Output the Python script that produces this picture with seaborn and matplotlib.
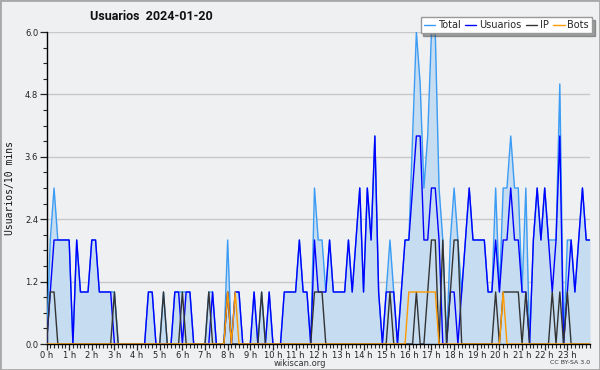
import numpy as np
import pandas as pd
import matplotlib
matplotlib.use("Agg")
import matplotlib.pyplot as plt
import seaborn as sns
from matplotlib.ticker import MultipleLocator
from matplotlib.patches import Rectangle

# ---- data: one value every 10 minutes, 00:00 .. 24:00 ----
total = [
    0, 2, 3, 2, 2, 2,
    2, 0, 2, 1, 1, 1,
    2, 2, 1, 1, 1, 1,
    1, 0, 0, 0, 0, 0,
    0, 0, 0, 1, 1, 0,
    0, 1, 0, 0, 1, 1,
    1, 1, 1, 0, 0, 0,
    0, 1, 1, 0, 0, 0,
    2, 0, 1, 1, 0, 0,
    0, 1, 0, 1, 0, 1,
    0, 0, 0, 1, 1, 1,
    1, 2, 1, 1, 0, 3,
    2, 2, 1, 2, 1, 1,
    1, 1, 2, 1, 2, 3,
    1, 3, 2, 4, 1, 0,
    1, 2, 1, 0, 1, 2,
    2, 4, 6, 5, 3, 4,
    6, 6, 3, 2, 0, 2,
    3, 2, 1, 2, 3, 2,
    2, 2, 2, 1, 1, 3,
    1, 3, 3, 4, 3, 3,
    1, 3, 0, 2, 3, 2,
    3, 2, 2, 2, 5, 0,
    2, 2, 1, 2, 3, 2,
    2]

usuarios = [
    0, 1, 2, 2, 2, 2,
    2, 0, 2, 1, 1, 1,
    2, 2, 1, 1, 1, 1,
    0, 0, 0, 0, 0, 0,
    0, 0, 0, 1, 1, 0,
    0, 0, 0, 0, 1, 1,
    0, 1, 1, 0, 0, 0,
    0, 0, 1, 0, 0, 0,
    1, 0, 1, 1, 0, 0,
    0, 1, 0, 0, 0, 1,
    0, 0, 0, 1, 1, 1,
    1, 2, 1, 1, 0, 2,
    1, 1, 1, 2, 1, 1,
    1, 1, 2, 1, 2, 3,
    1, 3, 2, 4, 1, 0,
    1, 1, 1, 0, 1, 2,
    2, 3, 4, 4, 2, 2,
    3, 3, 2, 0, 0, 1,
    1, 0, 1, 2, 3, 2,
    2, 2, 2, 1, 1, 2,
    1, 2, 2, 3, 2, 2,
    1, 1, 0, 2, 3, 2,
    3, 2, 1, 2, 4, 0,
    1, 2, 1, 2, 3, 2,
    2]

ip = [
    0, 1, 1, 0, 0, 0,
    0, 0, 0, 0, 0, 0,
    0, 0, 0, 0, 0, 0,
    1, 0, 0, 0, 0, 0,
    0, 0, 0, 0, 0, 0,
    0, 1, 0, 0, 0, 0,
    1, 0, 0, 0, 0, 0,
    0, 1, 0, 0, 0, 0,
    1, 0, 0, 0, 0, 0,
    0, 0, 0, 1, 0, 0,
    0, 0, 0, 0, 0, 0,
    0, 0, 0, 0, 0, 1,
    1, 1, 0, 0, 0, 0,
    0, 0, 0, 0, 0, 0,
    0, 0, 0, 0, 0, 0,
    0, 1, 0, 0, 0, 0,
    0, 0, 1, 0, 0, 1,
    2, 2, 0, 2, 0, 1,
    2, 2, 0, 0, 0, 0,
    0, 0, 0, 0, 0, 1,
    0, 1, 1, 1, 1, 1,
    0, 1, 0, 0, 0, 0,
    0, 0, 1, 0, 1, 0,
    1, 0, 0, 0, 0, 0,
    0]

bots = [
    0, 0, 0, 0, 0, 0,
    0, 0, 0, 0, 0, 0,
    0, 0, 0, 0, 0, 0,
    0, 0, 0, 0, 0, 0,
    0, 0, 0, 0, 0, 0,
    0, 0, 0, 0, 0, 0,
    0, 0, 0, 0, 0, 0,
    0, 0, 0, 0, 0, 0,
    1, 0, 1, 0, 0, 0,
    0, 0, 0, 0, 0, 0,
    0, 0, 0, 0, 0, 0,
    0, 0, 0, 0, 0, 0,
    0, 0, 0, 0, 0, 0,
    0, 0, 0, 0, 0, 0,
    0, 0, 0, 0, 0, 0,
    0, 0, 0, 0, 0, 0,
    1, 1, 1, 1, 1, 1,
    1, 1, 0, 0, 0, 0,
    0, 0, 0, 0, 0, 0,
    0, 0, 0, 0, 0, 0,
    0, 1, 0, 0, 0, 0,
    0, 0, 0, 0, 0, 0,
    0, 0, 0, 0, 0, 0,
    0, 0, 0, 0, 0, 0,
    0]

hour_labels = [f"{h} h" for h in range(24)]
y_ticks = [0.0, 1.2, 2.4, 3.6, 4.8, 6.0]
title = "Usuarios  2024-01-20"

series_names = ["Total", "Usuarios", "IP", "Bots"]
colors = {"Total": "#3a9cf4", "Usuarios": "#0000ff", "IP": "#333333", "Bots": "#ff9a00"}
FILL = "#c6dcf0"
BG = "#eff0f2"

hora = np.arange(len(total)) / 6.0
df = pd.DataFrame({"hora": hora, "Total": total, "Usuarios": usuarios,
                   "IP": ip, "Bots": bots})

sns.set_style("ticks")
plt.rcParams['font.family'] = ['DejaVu Sans']

fig = plt.figure(figsize=(6, 3.7), dpi=100, facecolor=BG)
ax = fig.add_axes([46.5 / 600, 1 - 344 / 370, (590 - 46.5) / 600, (344 - 32) / 370])
ax.set_facecolor(BG)

ax.fill_between(df["hora"], df["Total"], color=FILL, lw=0, zorder=1)
for name in series_names:
    sns.lineplot(data=df, x="hora", y=name, color=colors[name], lw=1.0,
                 ax=ax, label=name, zorder=3)

ax.set_xlim(0, 24)
ax.set_ylim(0, 6)
ax.set_xticks(range(24))
ax.set_xticklabels(hour_labels)
ax.xaxis.set_minor_locator(MultipleLocator(1 / 6))
ax.set_yticks(y_ticks)
ax.set_yticklabels([f"{v:.1f}" for v in y_ticks])
ax.yaxis.set_minor_locator(MultipleLocator(0.3))

ax.tick_params(axis='x', which='major', length=4, width=0.9, direction='out',
               labelsize=6, pad=1, colors='#222222')
ax.tick_params(axis='x', which='minor', length=3, width=0.8, direction='out')
ax.tick_params(axis='y', which='major', length=5, width=0.9, direction='out',
               labelsize=6, pad=1, colors='#222222')
ax.tick_params(axis='y', which='minor', length=3, width=0.8, direction='out')

ax.yaxis.grid(True, which='major', color='#c8c8c8', lw=1.0)
ax.set_axisbelow(True)
for s in ["top", "right"]:
    ax.spines[s].set_visible(False)
for s in ["left", "bottom"]:
    ax.spines[s].set_color("black")
    ax.spines[s].set_linewidth(1.0)

ax.set_xlabel("")
ax.set_ylabel("Usuarios/10 mins", family="DejaVu Sans Mono", fontsize=7, color="#111111")
ax.yaxis.set_label_coords(-0.058, 0.5)

leg = ax.legend(ncol=4, loc="upper right", bbox_to_anchor=(592 / 600, 1 - 17 / 370),
                bbox_transform=fig.transFigure, frameon=True, fancybox=False,
                shadow=True, fontsize=7, handlelength=1.2, handletextpad=0.3,
                columnspacing=0.4, borderpad=0.3, borderaxespad=0)
leg.get_frame().set_edgecolor("#999999")
leg.get_frame().set_facecolor("white")
leg.get_frame().set_alpha(1)
leg.set_zorder(10)

fig.text(151 / 600, 1 - 17 / 370, title, ha="center", va="center",
         fontsize=9, fontweight="bold", family="Roboto", color="#111111")
fig.text(300 / 600, 1 - 363 / 370, "wikiscan.org", ha="center", va="center",
         fontsize=6, color="#333333")
fig.text(590 / 600, 1 - 363 / 370, "CC BY-SA 3.0", ha="right", va="center",
         fontsize=4.5, color="#333333")

fig.add_artist(Rectangle((0, 0), 1, 1, transform=fig.transFigure, fill=False,
                         edgecolor="#a8a8a8", lw=2))

fig.savefig("out.png", dpi=100, facecolor=BG)
